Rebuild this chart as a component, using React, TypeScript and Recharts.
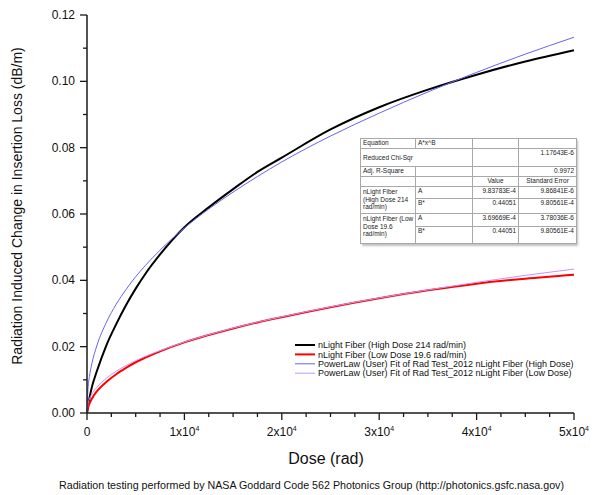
import React from 'react';
import { LineChart, Line, XAxis, YAxis } from 'recharts';

// dose (rad)
const DOSE = [0, 100, 250, 500, 1000, 2000, 3000, 4000, 5000, 6000, 7500, 10000, 12500, 15000, 17500, 20000, 25000, 30000, 35000, 40000, 45000, 50000];
// measured, high dose 214 rad/min
const HIGH = [0, 0.002, 0.0045, 0.0078, 0.0125, 0.0205, 0.0268, 0.0325, 0.0375, 0.042, 0.0478, 0.056, 0.062, 0.0675, 0.0727, 0.077, 0.0855, 0.0922, 0.0975, 0.102, 0.106, 0.1094];
// measured, low dose 19.6 rad/min
const LOW = [0, 0.0015, 0.0028, 0.0043, 0.0065, 0.0094, 0.0117, 0.0136, 0.0153, 0.0167, 0.0186, 0.0213, 0.0235, 0.0255, 0.0273, 0.0289, 0.0319, 0.0346, 0.037, 0.039, 0.0405, 0.0417];
// power law fits
const HIGH_FIT = [0, 0.0073, 0.011, 0.0149, 0.0202, 0.0274, 0.0328, 0.0372, 0.0411, 0.0445, 0.0491, 0.0558, 0.0615, 0.0666, 0.0713, 0.0757, 0.0835, 0.0904, 0.0968, 0.1027, 0.1082, 0.1133];
const LOW_FIT = [0, 0.0028, 0.0042, 0.0057, 0.0077, 0.0105, 0.0126, 0.0143, 0.0158, 0.0171, 0.0188, 0.0214, 0.0236, 0.0256, 0.0274, 0.029, 0.032, 0.0347, 0.0371, 0.0394, 0.0415, 0.0434];

const X_TICKS = [0, 2500, 5000, 7500, 10000, 12500, 15000, 17500, 20000, 22500, 25000, 27500, 30000, 32500, 35000, 37500, 40000, 42500, 45000, 47500, 50000];
const Y_TICKS = [0, 0.01, 0.02, 0.03, 0.04, 0.05, 0.06, 0.07, 0.08, 0.09, 0.1, 0.11, 0.12];

const LEGEND = [
  { name: 'nLight Fiber (High Dose 214 rad/min)', color: '#000000', width: 2 },
  { name: 'nLight Fiber (Low Dose 19.6 rad/min)', color: '#ff0000', width: 2 },
  { name: 'PowerLaw (User) Fit of Rad Test_2012 nLight Fiber (High Dose)', color: '#6464f0', width: 1 },
  { name: 'PowerLaw (User) Fit of Rad Test_2012 nLight Fiber (Low Dose)', color: '#c396f5', width: 1 },
];

const FONT = '"Liberation Sans", Arial, sans-serif';
const AXIS = '#1a1a1a';

const data = DOSE.map((d, i) => ({
  dose: d, high: HIGH[i], low: LOW[i], highFit: HIGH_FIT[i], lowFit: LOW_FIT[i],
}));

function XTick({ x, y, payload }: any) {
  const v = payload.value as number;
  const major = v % 10000 === 0;
  return (
    <g>
      <line x1={x} x2={x} y1={y} y2={y + (major ? 7 : 4)} stroke={AXIS} strokeWidth={1.3} />
      {major && (
        <text x={x} y={y + 23} textAnchor="middle" fontSize={12} fontFamily={FONT} fill="#111">
          {v === 0 ? '0' : `${v / 10000}x10`}
          {v !== 0 && <tspan dy={-5} fontSize={7}>4</tspan>}
        </text>
      )}
    </g>
  );
}

function YTick({ x, y, payload }: any) {
  const v = payload.value as number;
  const major = Math.round(v * 100) % 2 === 0;
  return (
    <g>
      <line x1={x} x2={x - (major ? 7 : 4)} y1={y} y2={y} stroke={AXIS} strokeWidth={1.3} />
      {major && (
        <text x={x - 12} y={y + 4} textAnchor="end" fontSize={12} fontFamily={FONT} fill="#111">
          {v.toFixed(2)}
        </text>
      )}
    </g>
  );
}

const cell: React.CSSProperties = {
  border: '1px solid #a8a8a8', padding: '0 2px', verticalAlign: 'top', overflow: 'hidden', whiteSpace: 'nowrap',
};
const num: React.CSSProperties = { ...cell, textAlign: 'right' };
const group: React.CSSProperties = { ...cell, paddingTop: 1, paddingRight: 0 };

function FitTable() {
  return (
    <div style={{
      position: 'absolute', left: 360, top: 138, width: 216, background: '#fff',
      boxShadow: '2px 2px 2px rgba(0,0,0,0.25)', fontFamily: FONT, fontSize: 6.5, color: '#222', lineHeight: '7.6px',
    }}>
      <table style={{ borderCollapse: 'collapse', tableLayout: 'fixed', width: 216, border: '1px solid #888' }}>
        <colgroup>
          <col style={{ width: 55 }} /><col style={{ width: 57 }} /><col style={{ width: 46 }} /><col style={{ width: 58 }} />
        </colgroup>
        <tbody>
          <tr style={{ height: 10 }}>
            <td style={cell}>Equation</td><td style={cell}>A*x^B</td><td style={cell}></td><td style={cell}></td>
          </tr>
          <tr style={{ height: 18 }}>
            <td style={{ ...cell, verticalAlign: 'middle' }} colSpan={2}>Reduced Chi-Sqr</td><td style={cell}></td><td style={num}>1.17643E-6</td>
          </tr>
          <tr style={{ height: 10 }}>
            <td style={cell}>Adj. R-Square</td><td style={cell}></td><td style={cell}></td><td style={num}>0.9972</td>
          </tr>
          <tr style={{ height: 10 }}>
            <td style={cell}></td><td style={cell}></td><td style={{ ...cell, textAlign: 'center' }}>Value</td><td style={{ ...cell, textAlign: 'center' }}>Standard Error</td>
          </tr>
          <tr style={{ height: 12 }}>
            <td style={group} rowSpan={2}>nLight Fiber<br />(High Dose 214<br />rad/min)</td>
            <td style={cell}>A</td><td style={num}>9.83783E-4</td><td style={num}>9.86841E-6</td>
          </tr>
          <tr style={{ height: 15 }}>
            <td style={cell}>B*</td><td style={num}>0.44051</td><td style={num}>9.80561E-4</td>
          </tr>
          <tr style={{ height: 13 }}>
            <td style={group} rowSpan={2}>nLight Fiber (Low<br />Dose 19.6<br />rad/min)</td>
            <td style={cell}>A</td><td style={num}>3.69669E-4</td><td style={num}>3.78036E-6</td>
          </tr>
          <tr style={{ height: 17 }}>
            <td style={cell}>B*</td><td style={num}>0.44051</td><td style={num}>9.80561E-4</td>
          </tr>
        </tbody>
      </table>
    </div>
  );
}

export default function App() {
  return (
    <div style={{ position: 'absolute', left: 0, top: 0, width: 592, height: 495, background: '#fff', overflow: 'hidden' }}>
      <LineChart width={592} height={495} data={data} margin={{ top: 15, right: 18, left: 0, bottom: 62 }}>
        <XAxis
          dataKey="dose" type="number" domain={[0, 50000]} ticks={X_TICKS} interval={0}
          tick={<XTick />} tickLine={false} tickSize={0} tickMargin={0} height={20}
          axisLine={{ stroke: AXIS, strokeWidth: 1.5 }}
        />
        <YAxis
          type="number" domain={[0, 0.12]} ticks={Y_TICKS} interval={0}
          tick={<YTick />} tickLine={false} tickSize={0} tickMargin={0} width={87}
          axisLine={{ stroke: AXIS, strokeWidth: 1.5 }}
        />
        <Line dataKey="high" stroke="#000" strokeWidth={2} type="monotone" dot={false} isAnimationActive={false} />
        <Line dataKey="low" stroke="#ff0000" strokeWidth={2} type="monotone" dot={false} isAnimationActive={false} />
        <Line dataKey="highFit" stroke="#6464f0" strokeWidth={1} type="monotone" dot={false} isAnimationActive={false} />
        <Line dataKey="lowFit" stroke="#c396f5" strokeWidth={1} type="monotone" dot={false} isAnimationActive={false} />
      </LineChart>

      <svg width={592} height={495} style={{ position: 'absolute', left: 0, top: 0, pointerEvents: 'none' }}>
        <text x={0} y={0} transform="translate(22 206) rotate(-90)" textAnchor="middle" fontSize={14} fontFamily={FONT} fill="#111">
          Radiation Induced Change in Insertion Loss (dB/m)
        </text>
        <text x={326} y={464} textAnchor="middle" fontSize={16} fontFamily={FONT} fill="#111">Dose (rad)</text>
        <text x={311.5} y={489} textAnchor="middle" fontSize={10.7} fontFamily={FONT} fill="#111">
          Radiation testing performed by NASA Goddard Code 562 Photonics Group (http://photonics.gsfc.nasa.gov)
        </text>
        {LEGEND.map((l, i) => (
          <g key={l.name}>
            <line x1={295} x2={315} y1={345 + i * 9.4} y2={345 + i * 9.4} stroke={l.color} strokeWidth={l.width} />
            <text x={318} y={348.2 + i * 9.4} fontSize={9} fontFamily={FONT} fill="#111">{l.name}</text>
          </g>
        ))}
      </svg>

      <FitTable />
    </div>
  );
}
